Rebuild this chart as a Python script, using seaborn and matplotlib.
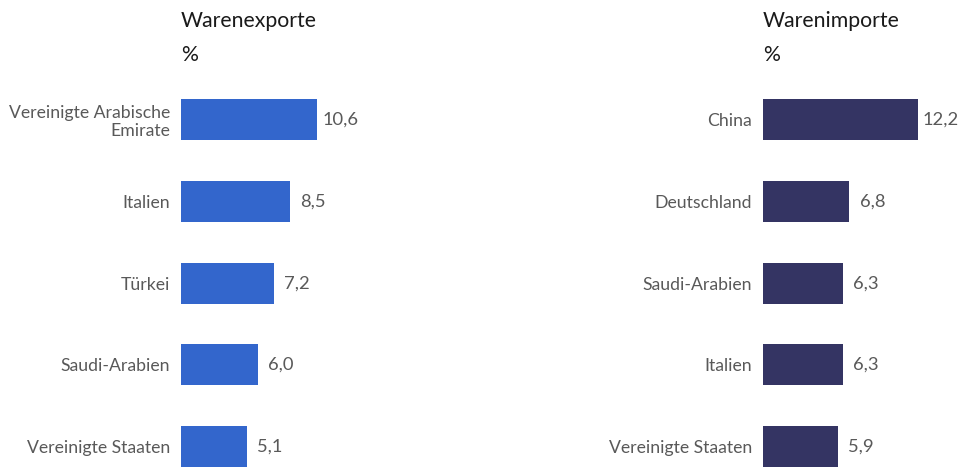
import matplotlib
matplotlib.use("Agg")
import matplotlib.pyplot as plt
import seaborn as sns
import pandas as pd

sns.set_theme(style="white")
plt.rcParams['font.family'] = ['Lato', 'DejaVu Sans']

export_countries = ["Vereinigte Arabische\nEmirate", "Italien", "Türkei", "Saudi-Arabien", "Vereinigte Staaten"]
export_values = [10.6, 8.5, 7.2, 6.0, 5.1]
import_countries = ["China", "Deutschland", "Saudi-Arabien", "Italien", "Vereinigte Staaten"]
import_values = [12.2, 6.8, 6.3, 6.3, 5.9]
titles = ["Warenexporte", "Warenimporte"]
unit = "%"

W, H = 962, 467
fig = plt.figure(figsize=(W / 100, H / 100), dpi=100)

top_px, bot_px = 79, 467
panels = [
    (export_countries, export_values, "#3366CC", 181, 12.85, titles[0]),
    (import_countries, import_values, "#343463", 763, 12.7, titles[1]),
]
xmax = 14
for cats, vals, col, left_px, scale, title in panels:
    ax = fig.add_axes([left_px / W, 1 - bot_px / H, xmax * scale / W, (bot_px - top_px) / H])
    df = pd.DataFrame({"cat": cats, "val": vals})
    sns.barplot(data=df, x="val", y="cat", color=col, width=0.5, ax=ax,
                saturation=1, linewidth=0)
    ax.set_xlim(0, xmax)
    ax.set_ylim(4.25, -0.5)
    ax.set_xlabel("")
    ax.set_ylabel("")
    ax.set_xticks([])
    for s in ax.spines.values():
        s.set_visible(False)
    ax.tick_params(axis="y", length=0, pad=8, labelsize=12.7, labelcolor="#595959")
    for t in ax.get_yticklabels():
        t.set_linespacing(1.15)
    texts = ax.bar_label(ax.containers[0], labels=[f"{v:.1f}".replace(".", ",") for v in vals],
                         padding=16.5, fontsize=13.2, color="#595959")
    for t in texts:
        t.set_ha("center")
    fig.text(left_px / W, 1 - 27 / H, title, fontsize=15.3, color="#1a1a1a", va="baseline", ha="left")
    fig.text(left_px / W, 1 - 61 / H, unit, fontsize=15.3, color="#1a1a1a", va="baseline", ha="left")

fig.savefig("out.png", dpi=100)
